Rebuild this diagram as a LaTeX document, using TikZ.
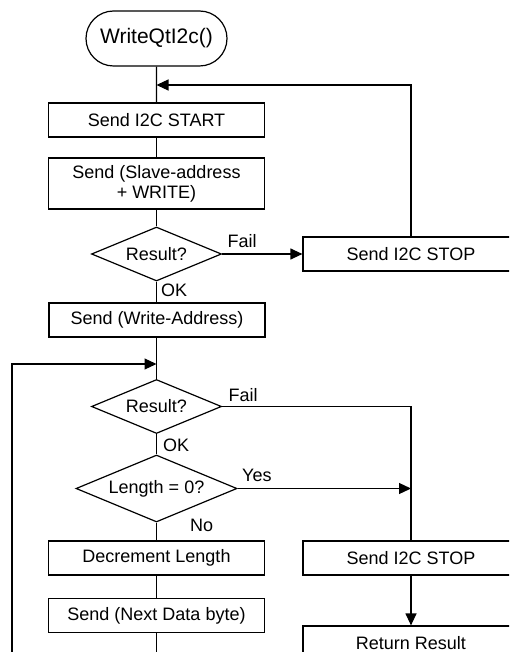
\documentclass[tikz,border=0pt]{standalone}
\usepackage{fontspec}
\setmainfont{Liberation Sans}
\usetikzlibrary{arrows.meta,shapes.geometric,shapes.misc}

\tikzset{
  box/.style={draw, rectangle, minimum width=108pt, minimum height=17pt,
    inner sep=0pt, align=center, font=\fontsize{9}{10}\selectfont},
  decision/.style={draw, diamond, aspect=2.4, inner sep=0pt,
    minimum width=65pt, minimum height=27pt, font=\fontsize{9}{10}\selectfont},
  terminal/.style={draw, rounded rectangle, minimum width=70.5pt,
    minimum height=27.5pt, inner sep=0pt, font=\fontsize{10.5}{12}\selectfont},
  lbl/.style={inner sep=0pt, font=\fontsize{9}{10}\selectfont},
}

\begin{document}
\begin{tikzpicture}[>={Triangle[length=6pt,width=5.5pt]}, x=0.5pt, y=-0.5pt, line width=0.6pt]
            \useasboundingbox (0,0) rectangle (509,652);
            \clip (0,0) rectangle (509,652);
            % Main column
            \node[terminal] (start) at (156.5,38.5) {WriteQtI2c()};
            \node[box] (startbox) at (156.5,120) {Send I2C START};
            \node[box, minimum height=25.5pt] (slavebox) at (156.5,183.5) {Send (Slave-address\\+ WRITE)};
            \node[decision] (res1) at (156.5,254) {Result?};
            \node[box] (addrbox) at (157,320) {Send (Write-Address)};
            \node[decision] (res2) at (156.5,406.5) {Result?};
            \node[decision, minimum width=80.5pt, minimum height=33.5pt] (len) at (156.5,488.5) {Length = 0?};
            \node[box] (decbox) at (156.5,558) {Decrement Length};
            \node[box] (nextbox) at (156.5,615.5) {Send (Next Data byte)};
            % Right column
            \node[box] (stop1) at (411,254) {Send I2C STOP};
            \node[box] (stop2) at (411,558) {Send I2C STOP};
            \node[box] (retbox) at (411,643) {Return Result};
            % Junctions
            \coordinate (topin) at (156.5,85);
            \coordinate (loopin) at (156.5,364);
            \coordinate (loopbot) at (12,680);
            \coordinate (yesin) at (411,488.5);
            % Straight flow
            \draw (start) -- (startbox);
            \draw (startbox) -- (slavebox);
            \draw (slavebox) -- (res1);
            \draw (res1.south) -- (res1.south |- addrbox.north);
            \draw (addrbox.south -| res2.north) -- (res2.north);
            \draw (res2) -- (len);
            \draw (len) -- (decbox);
            \draw (decbox) -- (nextbox);
            \draw[->] (stop2) -- (retbox);
            % Branches and loops
            \draw[->] (res1) -- (stop1);            % Fail
            \draw[->] (stop1.north) |- (topin);     % retry from START
            \draw (res2.east) -| (stop2.north);     % Fail
            \draw[->] (len.east) -- (yesin);        % Yes
            \draw[->] (nextbox.south) |- (loopbot) |- (loopin);
            % Labels
            \node[lbl, anchor=south west] (fail1) at ([xshift=2.5pt,yshift=3pt]res1.east) {Fail};
            \node[lbl, anchor=north west] (ok1) at ([xshift=2pt,yshift=-1pt]res1.south) {OK};
            \node[lbl, anchor=south west] (fail2) at ([xshift=3pt,yshift=2pt]res2.east) {Fail};
            \node[lbl, anchor=north west] (ok2) at ([xshift=3pt,yshift=-2pt]res2.south) {OK};
            \node[lbl, anchor=south west] (yes) at ([xshift=2pt,yshift=3pt]len.east) {Yes};
            \node[lbl, anchor=north west] (no) at ([xshift=16.5pt,yshift=2pt]len.south) {No};
        \end{tikzpicture}
\end{document}
